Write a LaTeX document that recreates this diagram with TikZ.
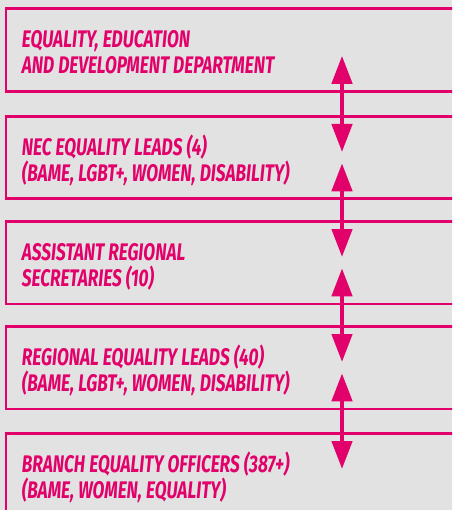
\documentclass[tikz,border=0pt]{standalone}
\usepackage{fontspec}
\usetikzlibrary{arrows.meta}
\newfontfamily\boxfont[FakeStretch=0.72,
  UprightFont={* Bold Italic}, BoldFont={* Bold Italic},
  ItalicFont={* Bold Italic}, BoldItalicFont={* Bold Italic}]{Fira Sans}
\newcommand\myboxtext{\boxfont\fontsize{24}{26}\selectfont}
\newcommand\mysetspace{\spaceskip=4pt plus 1pt minus 1pt\xspaceskip=4pt plus 1pt minus 1pt\relax}
\definecolor{mag}{RGB}{226,0,106}
\definecolor{bg}{RGB}{226,226,226}
\begin{document}
\begin{tikzpicture}[x=1pt,y=1pt,
  box/.style={draw=mag, line width=2.8pt, fill=bg, anchor=north west,
    minimum height=82.5pt, text width=440pt, inner xsep=16pt, inner ysep=2pt,
    text height=27pt, text depth=32pt, align=left,
    text=mag, font=\myboxtext, execute at begin node=\mysetspace},
  arr/.style={draw=mag, line width=4.5pt,
    {Triangle[width=20pt,length=28pt]}-{Triangle[width=20pt,length=28pt]}}]
\useasboundingbox (0,0) rectangle (452,-510);
\fill[bg] (0,0) rectangle (452,-510);
\clip (0,0) rectangle (452,-510);
\node[box] (b1) at (4.5,-7.5) {EQUALITY, EDUCATION\\AND DEVELOPMENT DEPARTMENT};
\node[box] (b2) at (4.5,-115) {NEC EQUALITY LEADS (4)\\(BAME, LGBT+, WOMEN, DISABILITY)};
\node[box] (b3) at (4.5,-220) {ASSISTANT REGIONAL\\SECRETARIES (10)};
\node[box] (b4) at (4.5,-325) {REGIONAL EQUALITY LEADS (40)\\(BAME, LGBT+, WOMEN, DISABILITY)};
\node[box] (b5) at (4.5,-432) {BRANCH EQUALITY OFFICERS (387+)\\(BAME, WOMEN, EQUALITY)};
\coordinate (ax) at (342,0);
\draw[arr] ([yshift=37pt]b1.south -| ax) -- ([yshift=-37pt]b2.north -| ax);
\draw[arr] ([yshift=37pt]b2.south -| ax) -- ([yshift=-37pt]b3.north -| ax);
\draw[arr] ([yshift=37pt]b3.south -| ax) -- ([yshift=-37pt]b4.north -| ax);
\draw[arr] ([yshift=37pt]b4.south -| ax) -- ([yshift=-37pt]b5.north -| ax);
\end{tikzpicture}
\end{document}
